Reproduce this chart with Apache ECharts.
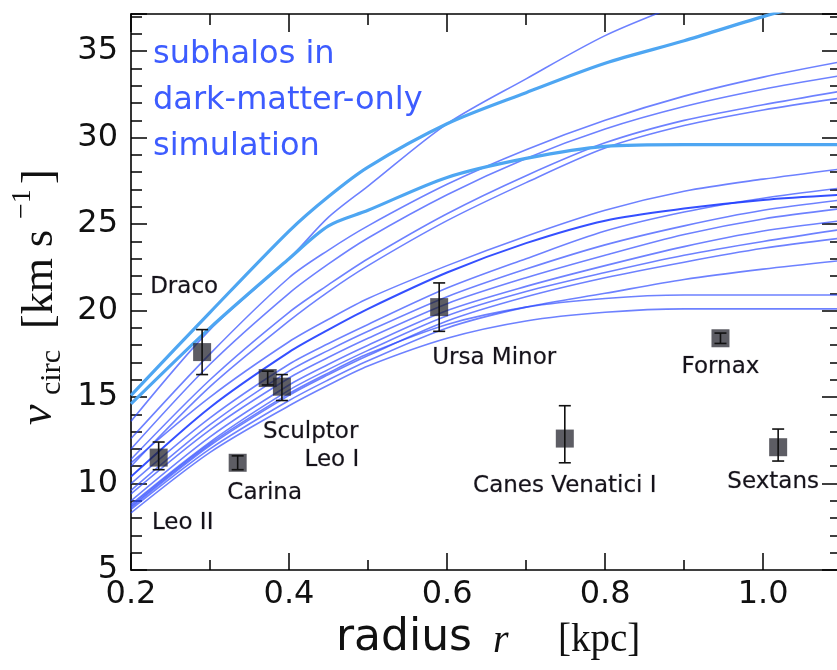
<!DOCTYPE html>
<html><head><meta charset="utf-8">
<script src="https://cdn.jsdelivr.net/npm/echarts@6.0.0/dist/echarts.min.js"></script>
<style>html,body{margin:0;padding:0;background:#fff}#c{width:837px;height:670px}</style>
</head><body><div id="c"></div>
<script>
// ---- data ----
const radiusGrid = [0.2, 0.3, 0.4, 0.45, 0.5, 0.6, 0.7, 0.8, 0.9, 1.0, 1.1];
// highlighted (light blue) subhalos
const subhaloA = [15.1, 19.9, 24.6, 26.6, 28.3, 30.8, 32.6, 34.3, 35.6, 37.0, 38.2];
const subhaloB = [14.6, 19.0, 23.0, 24.9, 25.8, 27.7, 28.8, 29.5, 29.6, 29.6, 29.6];
// other subhalos
const subhaloC  = [13.6, 18.9, 23.0, 25.4, 27.2, 30.8, 33.4, 35.9, 37.8, 39.6, 41.2];
const subhaloU1 = [12.6, 17.5, 21.9, 23.5, 24.9, 27.3, 29.3, 31.0, 32.4, 33.5, 34.4];
const subhaloU2 = [12.0, 16.9, 21.0, 22.7, 24.2, 26.7, 28.8, 30.5, 31.8, 32.8, 33.6];
const subhaloU3 = [11.4, 16.0, 19.9, 21.5, 23.0, 25.6, 27.8, 29.7, 31.0, 31.9, 32.7];
const subhaloU4 = [11.0, 15.6, 19.4, 21.1, 22.6, 25.2, 27.4, 29.4, 30.7, 31.6, 32.3];
const subhaloL1 = [11.2, 15.0, 18.2, 19.5, 20.7, 22.6, 24.3, 25.8, 26.9, 27.6, 28.2];
const subhaloL2 = [10.4, 14.4, 17.6, 18.9, 20.1, 22.2, 23.9, 25.2, 25.9, 26.4, 26.7];
const subhaloL3 = [10.0, 13.8, 16.9, 18.1, 19.2, 21.3, 23.0, 24.6, 25.7, 26.5, 27.1];
const subhaloL4 = [9.6, 13.4, 16.5, 17.7, 18.8, 20.8, 22.4, 23.8, 24.9, 25.8, 26.4];
const subhaloL5 = [9.4, 13.1, 16.1, 17.3, 18.4, 20.4, 21.9, 23.2, 24.4, 25.3, 25.9];
const subhaloL6 = [9.0, 12.7, 15.7, 16.9, 18.0, 20.0, 21.4, 22.6, 23.7, 24.6, 25.2];
const subhaloL7 = [8.8, 12.4, 15.4, 16.6, 17.7, 19.7, 21.1, 22.2, 23.2, 24.0, 24.7];
const subhaloL8 = [8.6, 12.2, 15.1, 16.3, 17.4, 19.4, 20.8, 21.9, 22.8, 23.6, 24.2];
const subhaloL9 = [8.5, 12.0, 14.8, 16.0, 17.1, 19.0, 20.2, 21.0, 21.8, 22.4, 22.9];
const subhaloL10 = [8.7, 12.3, 15.2, 16.4, 17.5, 19.2, 20.2, 20.7, 20.9, 20.9, 20.9];
const subhaloL11 = [8.3, 11.8, 14.5, 15.7, 16.8, 18.4, 19.4, 19.9, 20.1, 20.1, 20.1];

const dwarfNames  = ['Leo II', 'Draco', 'Carina', 'Sculptor', 'Leo I', 'Ursa Minor', 'Canes Venatici I', 'Fornax', 'Sextans'];
const dwarfRadius = [0.235, 0.29, 0.335, 0.373, 0.391, 0.59, 0.749, 0.946, 1.019];
const dwarfVcirc  = [11.5, 17.6, 11.2, 16.1, 15.6, 20.2, 12.6, 18.4, 12.1];
const dwarfErrLow = [10.8, 16.3, 10.8, 15.7, 14.8, 18.8, 11.2, 18.1, 11.3];
const dwarfErrHigh= [12.4, 18.9, 11.6, 16.5, 16.3, 21.6, 14.5, 18.7, 13.15];

// ---- layout / style (not data) ----
const labelOffsets = {
  'Leo II': [24, 65], 'Draco': [-18, -65], 'Carina': [27, 30], 'Sculptor': [43, 54],
  'Leo I': [50, 73], 'Ursa Minor': [55, 51], 'Canes Venatici I': [0, 47], 'Fornax': [0, 29], 'Sextans': [-5, 35]
};
const thinCurves = [subhaloC, subhaloU1, subhaloU2, subhaloU3, subhaloU4, subhaloL1, subhaloL3, subhaloL4,
  subhaloL5, subhaloL6, subhaloL7, subhaloL8, subhaloL9, subhaloL10, subhaloL11];
const strongCurves = [subhaloL2];
const lightCurves = [subhaloA, subhaloB];

const toPairs = ys => radiusGrid.map((x, i) => [x, ys[i]]);
const lineSeries = (ys, color, width) => ({
  type: 'line', data: toPairs(ys), smooth: 0.3, showSymbol: false,
  lineStyle: { color: color, width: width }, silent: true, clip: true, z: 2
});

const series = [];
thinCurves.forEach(c => series.push(lineSeries(c, 'rgba(40,70,255,0.68)', 1.6)));
strongCurves.forEach(c => series.push(lineSeries(c, 'rgba(30,60,255,0.9)', 2)));
lightCurves.forEach(c => series.push(lineSeries(c, '#4ea6f2', 3.2)));

series.push({
  type: 'scatter', symbol: 'rect', symbolSize: 18, z: 5,
  itemStyle: { color: 'rgba(30,30,40,0.9)' },
  data: dwarfNames.map((n, i) => ({ name: n, value: [dwarfRadius[i], dwarfVcirc[i]],
    label: { offset: labelOffsets[n] } })),
  label: { show: true, position: 'inside', formatter: '{b}', fontFamily: 'DejaVu Sans', fontSize: 23,
    color: '#15121a', opacity: 1, textBorderColor: 'rgba(20,18,26,0.35)', textBorderWidth: 0.6 }
});
series.push({
  type: 'custom', z: 6,
  data: dwarfNames.map((n, i) => [dwarfRadius[i], dwarfErrLow[i], dwarfErrHigh[i]]),
  encode: { x: 0, y: [1, 2] },
  renderItem: (params, api) => {
    const x = api.value(0);
    const pLo = api.coord([x, api.value(1)]);
    const pHi = api.coord([x, api.value(2)]);
    const cap = 6, st = { stroke: '#111', lineWidth: 1.6 };
    return { type: 'group', children: [
      { type: 'line', shape: { x1: pLo[0], y1: pLo[1], x2: pHi[0], y2: pHi[1] }, style: st },
      { type: 'line', shape: { x1: pLo[0] - cap, y1: pLo[1], x2: pLo[0] + cap, y2: pLo[1] }, style: st },
      { type: 'line', shape: { x1: pHi[0] - cap, y1: pHi[1], x2: pHi[0] + cap, y2: pHi[1] }, style: st }
    ]};
  }
});

const axLine = { show: true, onZero: false, lineStyle: { color: '#000', width: 1.6 } };
const tickStyle = { color: '#000', width: 1.5 };
const xFmt = v => Math.abs(v * 5 - Math.round(v * 5)) < 1e-6 ? v.toFixed(1) : '';
const yFmt = v => Math.abs(v / 5 - Math.round(v / 5)) < 1e-6 ? String(Math.round(v)) : '';
const XMIN = 0.2, XMAX = 1.096, YMIN = 5, YMAX = 37.15;

const option = {
  animation: false,
  backgroundColor: '#fff',
  grid: { left: 131, right: -2, top: 14, bottom: 100, containLabel: false, outerBoundsMode: 'none' },
  xAxis: [
    { type: 'value', position: 'bottom', min: XMIN, max: XMAX, interval: 0.2,
      axisLine: axLine, splitLine: { show: false },
      axisTick: { inside: true, length: 17, lineStyle: tickStyle },
      minorTick: { show: true, splitNumber: 2, length: 10, lineStyle: tickStyle },
      axisLabel: { formatter: xFmt, showMaxLabel: false, fontFamily: 'DejaVu Sans', fontSize: 32, color: '#111', margin: 9 } },
    { type: 'value', position: 'top', min: XMIN, max: XMAX, interval: 0.2,
      axisLine: axLine, splitLine: { show: false },
      axisTick: { inside: true, length: 18, lineStyle: tickStyle },
      minorTick: { show: true, splitNumber: 2, length: 11, lineStyle: tickStyle },
      axisLabel: { show: false } }
  ],
  yAxis: [
    { type: 'value', position: 'left', min: YMIN, max: YMAX, interval: 5,
      axisLine: axLine, splitLine: { show: false },
      axisTick: { inside: true, length: 16, lineStyle: tickStyle },
      minorTick: { show: true, splitNumber: 5, length: 11, lineStyle: tickStyle },
      axisLabel: { formatter: yFmt, showMaxLabel: false, fontFamily: 'DejaVu Sans', fontSize: 32, color: '#111', margin: 13 } },
    { type: 'value', position: 'right', min: YMIN, max: YMAX, interval: 5,
      axisLine: axLine, splitLine: { show: false },
      axisTick: { inside: true, length: 17, lineStyle: tickStyle },
      minorTick: { show: true, splitNumber: 5, length: 9, lineStyle: tickStyle },
      axisLabel: { show: false } }
  ],
  series: series,
  graphic: [
    { type: 'text', x: 153, y: 32, z: 10,
      style: { text: 'subhalos in\ndark-matter-only\nsimulation', font: '32px "DejaVu Sans"', lineHeight: 46,
        fill: '#3d5cff', align: 'left', verticalAlign: 'top' } },
    // x axis title
    { type: 'text', x: 336, y: 639, z: 10, style: { text: 'radius', font: '44px "DejaVu Sans"', fill: '#111', align: 'left', verticalAlign: 'middle' } },
    { type: 'text', x: 493, y: 641, z: 10, style: { text: 'r', font: 'italic 40px "Liberation Serif"', fill: '#111', align: 'left', verticalAlign: 'middle' } },
    { type: 'text', x: 558, y: 641, z: 10, style: { text: '[kpc]', font: '39px "Liberation Serif"', fill: '#111', align: 'left', verticalAlign: 'middle' } },
    // y axis title (rotated)
    { type: 'group', x: 54, y: 425, rotation: Math.PI / 2, z: 10, children: [
      { type: 'text', x: 0, y: -15, style: { text: 'v', font: 'italic 46px "Liberation Serif"', fill: '#111', align: 'left', verticalAlign: 'middle' } },
      { type: 'text', x: 30, y: -2, style: { text: 'circ', font: '30px "Liberation Serif"', fill: '#111', align: 'left', verticalAlign: 'middle' } },
      { type: 'text', x: 96, y: -14, style: { text: '[km s', font: '44px "Liberation Serif"', fill: '#111', align: 'left', verticalAlign: 'middle' } },
      { type: 'text', x: 206, y: -31, style: { text: '\u22121', font: '28px "Liberation Serif"', fill: '#111', align: 'left', verticalAlign: 'middle' } },
      { type: 'text', x: 241, y: -14, style: { text: ']', font: '44px "Liberation Serif"', fill: '#111', align: 'left', verticalAlign: 'middle' } }
    ]}
  ]
};
const chart = echarts.init(document.getElementById('c'), null, { renderer: 'canvas' });
chart.setOption(option);
</script></body></html>
